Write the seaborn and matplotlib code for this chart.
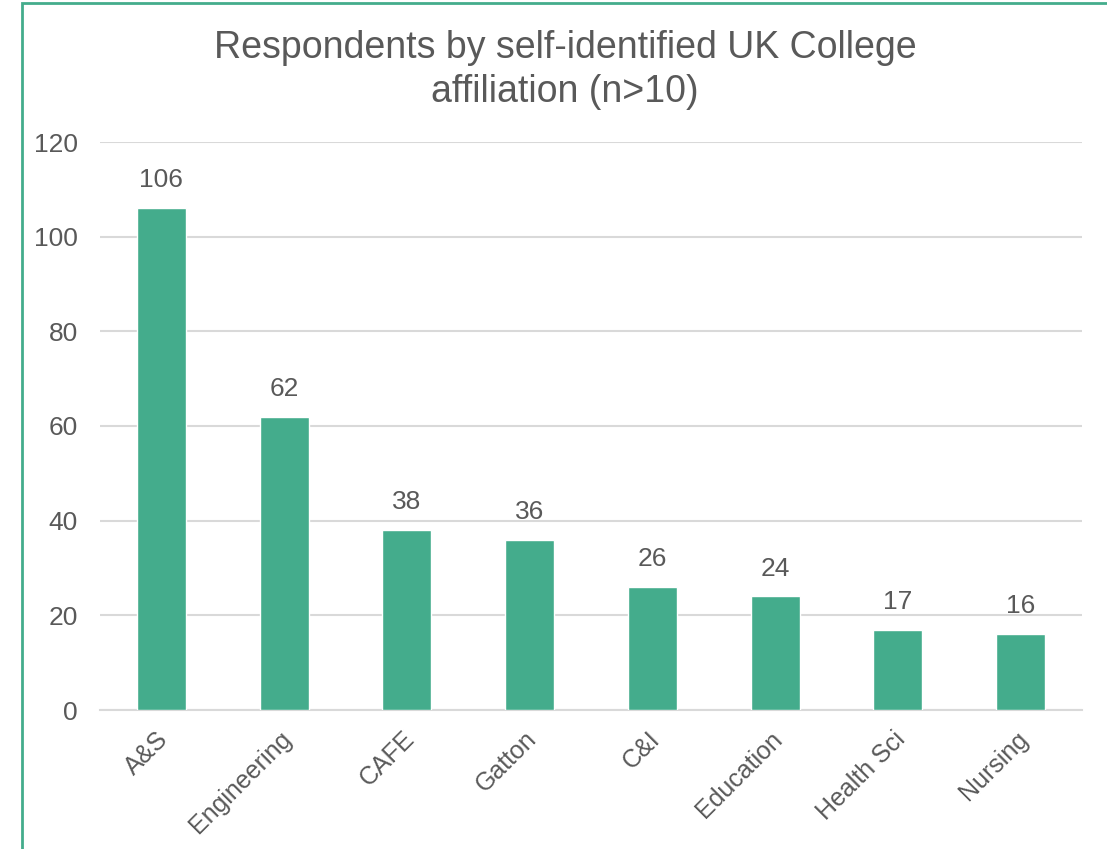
import matplotlib
matplotlib.use("Agg")
import matplotlib.pyplot as plt
import matplotlib.transforms as mtransforms
from matplotlib.patches import Rectangle
import seaborn as sns
import pandas as pd

colleges = ["A&S", "Engineering", "CAFE", "Gatton", "C&I", "Education", "Health Sci", "Nursing"]
respondents = [106, 62, 38, 36, 26, 24, 17, 16]
y_ticks = [0, 20, 40, 60, 80, 100, 120]
title = "Respondents by self-identified UK College\naffiliation (n>10)"

bar_color = "#44AC8C"
text_color = "#595959"
grid_color = "#D9D9D9"

sns.set_theme(style="white")
plt.rcParams["font.family"] = ["Liberation Sans", "DejaVu Sans"]

df = pd.DataFrame({"college": colleges, "n": respondents})

W, H = 1107, 849
fig = plt.figure(figsize=(W / 100, H / 100), dpi=100)
ax = fig.add_axes([100 / W, 1 - 710 / H, (1082 - 100) / W, (710 - 142) / H])

sns.barplot(data=df, x="college", y="n", color=bar_color, width=0.4,
            saturation=1, ax=ax, zorder=3)

ax.set_ylim(0, 120)
ax.set_xlim(-0.5, len(colleges) - 0.5)
ax.set_yticks(y_ticks)
ax.set_yticklabels([str(v) for v in y_ticks])
ax.set_xlabel("")
ax.set_ylabel("")
ax.yaxis.grid(True, color=grid_color, linewidth=1.5, zorder=0)
ax.set_axisbelow(True)
for side in ["left", "right", "top"]:
    ax.spines[side].set_visible(False)
ax.spines["bottom"].set_color(grid_color)
ax.spines["bottom"].set_linewidth(1.5)
ax.tick_params(axis="y", length=0, pad=16, labelsize=19, labelcolor=text_color)
ax.tick_params(axis="x", length=0, pad=12, labelsize=18, labelcolor=text_color)

# rotated category labels, nudged slightly left of the tick
nudge = mtransforms.ScaledTranslation(-5 / 100, 0, fig.dpi_scale_trans)
for lbl in ax.get_xticklabels():
    lbl.set_rotation(45)
    lbl.set_ha("right")
    lbl.set_va("top")
    lbl.set_rotation_mode("anchor")
    lbl.set_transform(lbl.get_transform() + nudge)

# value labels above each bar
for i, v in enumerate(respondents):
    ax.annotate(str(v), (i, v), xytext=(0, 20), textcoords="offset points",
                ha="center", va="center", fontsize=19, color=text_color)

fig.text(565 / W, 1 - 70 / H, title, ha="center", va="center",
         fontsize=27, color=text_color, linespacing=1.3)

# chart frame
fig.patches.append(Rectangle((22 / W, -0.1), 1.2, 1 - 3 / H + 0.1,
                             transform=fig.transFigure, fill=False,
                             edgecolor=bar_color, linewidth=2))

fig.savefig("out.png", dpi=100)
